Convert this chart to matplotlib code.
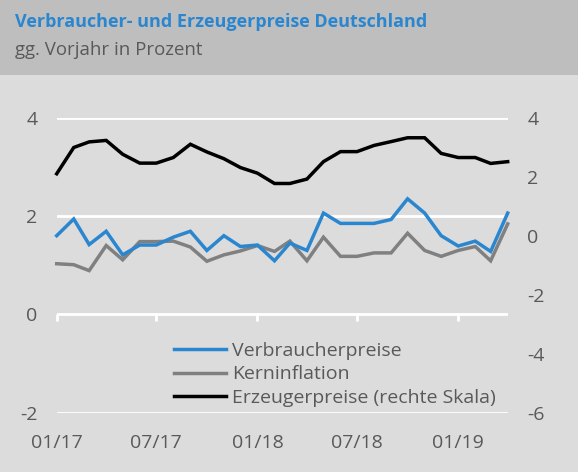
import matplotlib
matplotlib.use("Agg")
import matplotlib.pyplot as plt
from matplotlib.lines import Line2D
import pandas as pd

# ---- data -------------------------------------------------------------
months = pd.date_range("2017-01-01", periods=28, freq="MS")
verbraucherpreise = [1.60, 1.94, 1.42, 1.69, 1.21, 1.41, 1.41, 1.57, 1.69, 1.30,
                     1.60, 1.38, 1.41, 1.09, 1.45, 1.30, 2.06, 1.85, 1.85, 1.85,
                     1.93, 2.35, 2.06, 1.60, 1.39, 1.49, 1.28, 2.06]
kerninflation = [1.03, 1.01, 0.89, 1.40, 1.11, 1.48, 1.48, 1.49, 1.37, 1.08,
                 1.21, 1.29, 1.40, 1.28, 1.49, 1.09, 1.57, 1.18, 1.18, 1.25,
                 1.25, 1.65, 1.30, 1.18, 1.30, 1.38, 1.09, 1.84]
erzeugerpreise = [2.10, 2.99, 3.18, 3.23, 2.76, 2.46, 2.46, 2.65, 3.10, 2.84,
                  2.61, 2.31, 2.12, 1.77, 1.77, 1.92, 2.51, 2.85, 2.85, 3.06,
                  3.19, 3.32, 3.32, 2.79, 2.65, 2.65, 2.45, 2.51]
tick_dates = ["2017-01-01", "2017-07-01", "2018-01-01", "2018-07-01", "2019-01-01"]
tick_labels = ["01/17", "07/17", "01/18", "07/18", "01/19"]
left_ticks = [-2, 0, 2, 4]
right_ticks = [-6, -4, -2, 0, 2, 4]
series_names = ["Verbraucherpreise", "Kerninflation", "Erzeugerpreise (rechte Skala)"]
title = "Verbraucher- und Erzeugerpreise Deutschland"
subtitle = "gg. Vorjahr in Prozent"

# ---- style ------------------------------------------------------------
FONT = "Open Sans"
plt.rcParams["font.family"] = [FONT, "DejaVu Sans"]
BG = "#dcdcdc"
HEADER = "#bebebe"
BLUE = "#2a86cf"
GRAY = "#808080"
TXT = "#595959"

W, H = 578, 472
fig = plt.figure(figsize=(W / 100, H / 100), dpi=100)
fig.patch.set_facecolor(BG)

# header band
fig.patches.append(plt.Rectangle((0, 1 - 75 / H), 1, 75 / H, transform=fig.transFigure,
                                 facecolor=HEADER, edgecolor="none", zorder=0))
fig.text(15 / W, 1 - 22 / H, title, color=BLUE, fontsize=13, fontweight="bold",
         va="center", ha="left")
fig.text(15 / W, 1 - 50 / H, subtitle, color=TXT, fontsize=13.4, va="center", ha="left")

left, right, top, bottom = 56.7, 507.7, 117.7, 412.7
ax = fig.add_axes([left / W, 1 - bottom / H, (right - left) / W, (bottom - top) / H])
ax.set_facecolor(BG)
ax2 = ax.twinx()

ax.set_xlim(months[0], months[-1])
ax.set_ylim(-2, 4)
ax2.set_ylim(-6, 4)

for a in (ax, ax2):
    for s in a.spines.values():
        s.set_visible(False)

ax.set_yticks(left_ticks)
ax.set_yticklabels([str(t) for t in left_ticks])
ax2.set_yticks(right_ticks)
ax2.set_yticklabels([str(t) for t in right_ticks])
ax.yaxis.grid(True, color="white", linewidth=2)
ax.set_axisbelow(True)
ax.tick_params(axis="y", length=0, pad=14, labelsize=14, labelcolor=TXT)
ax2.tick_params(axis="y", length=0, pad=14, labelsize=14, labelcolor=TXT)

xt = pd.to_datetime(tick_dates)
ax.set_xticks(xt)
ax.set_xticklabels(tick_labels)
ax.tick_params(axis="x", length=0, pad=15, labelsize=14, labelcolor=TXT)

# small white tick marks on the zero line
sec = ax.secondary_xaxis(1 / 3)
sec.set_xticks(xt)
sec.set_xticklabels([""] * len(xt))
sec.tick_params(axis="x", length=5, width=2, color="white", direction="out")
for s in sec.spines.values():
    s.set_visible(False)

lw = 2.5
ax.plot(months, verbraucherpreise, color=BLUE, lw=lw, zorder=3, clip_on=False,
        solid_joinstyle="miter")
ax.plot(months, kerninflation, color=GRAY, lw=lw, zorder=2, clip_on=False,
        solid_joinstyle="miter")
ax2.plot(months, erzeugerpreise, color="black", lw=lw, zorder=3, clip_on=False,
         solid_joinstyle="miter")

handles = [Line2D([], [], color=c, lw=lw) for c in (BLUE, GRAY, "black")]
leg = ax2.legend(handles, series_names, loc="upper left",
                 bbox_to_anchor=(173.7 / W, 1 - 342 / H), bbox_transform=fig.transFigure,
                 frameon=False, fontsize=14, borderpad=0, borderaxespad=0,
                 handlelength=2.7, handletextpad=0.3, labelspacing=0.28)
for t in leg.get_texts():
    t.set_color(TXT)

fig.savefig("out.png", dpi=100, facecolor=BG)
